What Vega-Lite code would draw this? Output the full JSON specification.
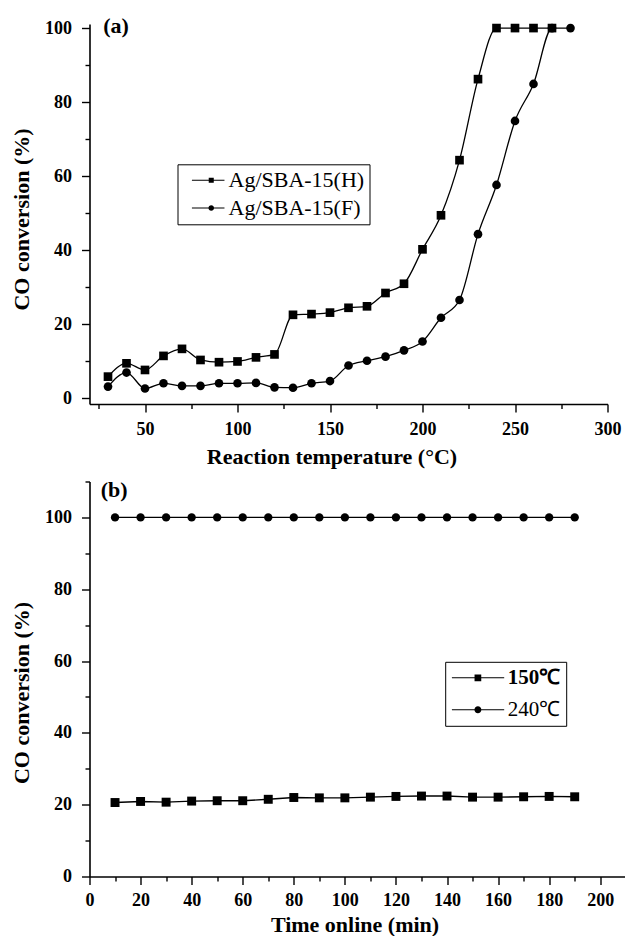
{
  "$schema": "https://vega.github.io/schema/vega-lite/v6.json",
  "background": "white",
  "padding": {"left": 10.5, "top": 15, "right": 0, "bottom": 0},
  "config": {
    "font": "Liberation Serif",
    "view": {"stroke": null},
    "concat": {"spacing": 11.5},
    "axis": {
      "domainColor": "black", "domainWidth": 1.6,
      "tickColor": "black", "tickWidth": 1.4,
      "labelFont": "Liberation Serif", "labelFontWeight": "bold", "labelFontSize": 18, "labelColor": "black",
      "titleFont": "Liberation Serif", "titleFontWeight": "bold", "titleFontSize": 22, "titleColor": "black",
      "grid": false, "labelFlush": false, "labelOverlap": false
    }
  },
  "datasets": {
    "a": [
      {"temp": 30, "conv": 5.8, "series": "Ag/SBA-15(H)"},
      {"temp": 40, "conv": 9.4, "series": "Ag/SBA-15(H)"},
      {"temp": 50, "conv": 7.6, "series": "Ag/SBA-15(H)"},
      {"temp": 60, "conv": 11.4, "series": "Ag/SBA-15(H)"},
      {"temp": 70, "conv": 13.3, "series": "Ag/SBA-15(H)"},
      {"temp": 80, "conv": 10.3, "series": "Ag/SBA-15(H)"},
      {"temp": 90, "conv": 9.7, "series": "Ag/SBA-15(H)"},
      {"temp": 100, "conv": 9.9, "series": "Ag/SBA-15(H)"},
      {"temp": 110, "conv": 11.0, "series": "Ag/SBA-15(H)"},
      {"temp": 120, "conv": 11.8, "series": "Ag/SBA-15(H)"},
      {"temp": 130, "conv": 22.5, "series": "Ag/SBA-15(H)"},
      {"temp": 140, "conv": 22.7, "series": "Ag/SBA-15(H)"},
      {"temp": 150, "conv": 23.1, "series": "Ag/SBA-15(H)"},
      {"temp": 160, "conv": 24.4, "series": "Ag/SBA-15(H)"},
      {"temp": 170, "conv": 24.8, "series": "Ag/SBA-15(H)"},
      {"temp": 180, "conv": 28.4, "series": "Ag/SBA-15(H)"},
      {"temp": 190, "conv": 30.9, "series": "Ag/SBA-15(H)"},
      {"temp": 200, "conv": 40.2, "series": "Ag/SBA-15(H)"},
      {"temp": 210, "conv": 49.4, "series": "Ag/SBA-15(H)"},
      {"temp": 220, "conv": 64.3, "series": "Ag/SBA-15(H)"},
      {"temp": 230, "conv": 86.2, "series": "Ag/SBA-15(H)"},
      {"temp": 240, "conv": 100, "series": "Ag/SBA-15(H)"},
      {"temp": 250, "conv": 100, "series": "Ag/SBA-15(H)"},
      {"temp": 260, "conv": 100, "series": "Ag/SBA-15(H)"},
      {"temp": 270, "conv": 100, "series": "Ag/SBA-15(H)"},
      {"temp": 30, "conv": 3.1, "series": "Ag/SBA-15(F)"},
      {"temp": 40, "conv": 6.9, "series": "Ag/SBA-15(F)"},
      {"temp": 50, "conv": 2.6, "series": "Ag/SBA-15(F)"},
      {"temp": 60, "conv": 4.0, "series": "Ag/SBA-15(F)"},
      {"temp": 70, "conv": 3.3, "series": "Ag/SBA-15(F)"},
      {"temp": 80, "conv": 3.3, "series": "Ag/SBA-15(F)"},
      {"temp": 90, "conv": 4.0, "series": "Ag/SBA-15(F)"},
      {"temp": 100, "conv": 4.0, "series": "Ag/SBA-15(F)"},
      {"temp": 110, "conv": 4.1, "series": "Ag/SBA-15(F)"},
      {"temp": 120, "conv": 2.9, "series": "Ag/SBA-15(F)"},
      {"temp": 130, "conv": 2.8, "series": "Ag/SBA-15(F)"},
      {"temp": 140, "conv": 4.0, "series": "Ag/SBA-15(F)"},
      {"temp": 150, "conv": 4.6, "series": "Ag/SBA-15(F)"},
      {"temp": 160, "conv": 8.8, "series": "Ag/SBA-15(F)"},
      {"temp": 170, "conv": 10.1, "series": "Ag/SBA-15(F)"},
      {"temp": 180, "conv": 11.2, "series": "Ag/SBA-15(F)"},
      {"temp": 190, "conv": 12.9, "series": "Ag/SBA-15(F)"},
      {"temp": 200, "conv": 15.3, "series": "Ag/SBA-15(F)"},
      {"temp": 210, "conv": 21.7, "series": "Ag/SBA-15(F)"},
      {"temp": 220, "conv": 26.5, "series": "Ag/SBA-15(F)"},
      {"temp": 230, "conv": 44.3, "series": "Ag/SBA-15(F)"},
      {"temp": 240, "conv": 57.6, "series": "Ag/SBA-15(F)"},
      {"temp": 250, "conv": 74.9, "series": "Ag/SBA-15(F)"},
      {"temp": 260, "conv": 84.9, "series": "Ag/SBA-15(F)"},
      {"temp": 270, "conv": 100, "series": "Ag/SBA-15(F)"},
      {"temp": 280, "conv": 100, "series": "Ag/SBA-15(F)"}
    ],
    "b": [
      {"time": 10, "conv": 20.6, "cond": "150℃"},
      {"time": 20, "conv": 20.9, "cond": "150℃"},
      {"time": 30, "conv": 20.7, "cond": "150℃"},
      {"time": 40, "conv": 21.0, "cond": "150℃"},
      {"time": 50, "conv": 21.1, "cond": "150℃"},
      {"time": 60, "conv": 21.1, "cond": "150℃"},
      {"time": 70, "conv": 21.5, "cond": "150℃"},
      {"time": 80, "conv": 22.0, "cond": "150℃"},
      {"time": 90, "conv": 21.9, "cond": "150℃"},
      {"time": 100, "conv": 21.9, "cond": "150℃"},
      {"time": 110, "conv": 22.1, "cond": "150℃"},
      {"time": 120, "conv": 22.3, "cond": "150℃"},
      {"time": 130, "conv": 22.4, "cond": "150℃"},
      {"time": 140, "conv": 22.4, "cond": "150℃"},
      {"time": 150, "conv": 22.1, "cond": "150℃"},
      {"time": 160, "conv": 22.1, "cond": "150℃"},
      {"time": 170, "conv": 22.2, "cond": "150℃"},
      {"time": 180, "conv": 22.3, "cond": "150℃"},
      {"time": 190, "conv": 22.2, "cond": "150℃"},
      {"time": 10, "conv": 100, "cond": "240℃"},
      {"time": 20, "conv": 100, "cond": "240℃"},
      {"time": 30, "conv": 100, "cond": "240℃"},
      {"time": 40, "conv": 100, "cond": "240℃"},
      {"time": 50, "conv": 100, "cond": "240℃"},
      {"time": 60, "conv": 100, "cond": "240℃"},
      {"time": 70, "conv": 100, "cond": "240℃"},
      {"time": 80, "conv": 100, "cond": "240℃"},
      {"time": 90, "conv": 100, "cond": "240℃"},
      {"time": 100, "conv": 100, "cond": "240℃"},
      {"time": 110, "conv": 100, "cond": "240℃"},
      {"time": 120, "conv": 100, "cond": "240℃"},
      {"time": 130, "conv": 100, "cond": "240℃"},
      {"time": 140, "conv": 100, "cond": "240℃"},
      {"time": 150, "conv": 100, "cond": "240℃"},
      {"time": 160, "conv": 100, "cond": "240℃"},
      {"time": 170, "conv": 100, "cond": "240℃"},
      {"time": 180, "conv": 100, "cond": "240℃"},
      {"time": 190, "conv": 100, "cond": "240℃"}
    ]
  },
  "resolve": {"scale": {"shape": "independent"}, "legend": {"shape": "independent"}},
  "vconcat": [
    {
      "width": 518,
      "height": 380,
      "resolve": {"axis": {"x": "independent", "y": "independent"}},
      "layer": [
        {
          "data": {"name": "a"},
          "mark": {"type": "line", "interpolate": "monotone", "color": "black", "strokeWidth": 1.3},
          "encoding": {
            "x": {"field": "temp", "type": "quantitative",
              "scale": {"domain": [20, 300], "nice": false, "zero": false},
              "axis": {"title": "Reaction temperature (°C)", "orient": "bottom",
                "values": [50, 100, 150, 200, 250, 300],
                "tickSize": 8, "labelPadding": 8, "titlePadding": 8, "titleX": 242}},
            "y": {"field": "conv", "type": "quantitative",
              "scale": {"domain": [-1.6, 101.1], "nice": false, "zero": false},
              "axis": {"title": "CO conversion (%)", "orient": "left",
                "values": [0, 20, 40, 60, 80, 100],
                "tickSize": 8, "labelPadding": 10, "titlePadding": 11, "titleY": 195}},
            "detail": {"field": "series"}
          }
        },
        {
          "data": {"name": "a"},
          "transform": [{"filter": "datum.series === 'Ag/SBA-15(H)'"}],
          "mark": {"type": "square", "color": "black", "size": 75, "opacity": 1},
          "encoding": {
            "x": {"field": "temp", "type": "quantitative", "axis": null},
            "y": {"field": "conv", "type": "quantitative", "axis": null}
          }
        },
        {
          "data": {"name": "a"},
          "transform": [{"filter": "datum.series === 'Ag/SBA-15(F)'"}],
          "mark": {"type": "circle", "color": "black", "size": 75, "opacity": 1},
          "encoding": {
            "x": {"field": "temp", "type": "quantitative", "axis": null},
            "y": {"field": "conv", "type": "quantitative", "axis": null}
          }
        },
        {
          "data": {"name": "a"},
          "mark": {"type": "point", "filled": true, "color": "black", "opacity": 0, "size": 1},
          "encoding": {
            "x": {"field": "temp", "type": "quantitative", "axis": null},
            "y": {"field": "conv", "type": "quantitative", "axis": null},
            "shape": {"field": "series", "type": "nominal",
              "scale": {"domain": ["Ag/SBA-15(H)", "Ag/SBA-15(F)"],
                "range": ["M-0.15,-0.048H2.95V0.048H-0.15ZM1.45,-0.24H1.93V0.24H1.45Z", "M-0.15,-0.048H2.95V0.048H-0.15ZM1.96,0A0.27,0.27 0 1,1 1.42,0A0.27,0.27 0 1,1 1.96,0Z"]},
              "legend": {"title": null, "orient": "none", "legendX": 88, "legendY": 140.3,
                "strokeColor": "black", "padding": 5,
                "symbolSize": 441, "symbolOpacity": 1, "symbolStrokeWidth": 0,
                "symbolFillColor": "black",
                "labelFont": "Liberation Serif", "labelFontSize": 22,
                "labelFontWeight": "normal", "labelColor": "black", "labelOffset": 24, "rowPadding": 5.7}}
          }
        },
        {
          "data": {"values": [{}]},
          "mark": {"type": "text", "text": "(a)", "font": "Liberation Serif", "fontWeight": "bold", "fontSize": 22, "align": "left", "baseline": "middle", "color": "black"},
          "encoding": {
            "x": {"datum": 27.4, "type": "quantitative",
              "axis": {"orient": "bottom", "values": [25, 75, 125, 175, 225, 275], "labels": false, "domain": false, "tickSize": 4.5, "title": null}},
            "y": {"datum": 100.5, "type": "quantitative",
              "axis": {"orient": "left", "values": [10, 30, 50, 70, 90], "labels": false, "domain": false, "tickSize": 4.5, "title": null}}
          }
        }
      ]
    },
    {
      "width": 535,
      "height": 395,
      "resolve": {"axis": {"x": "independent", "y": "independent"}},
      "layer": [
        {
          "data": {"name": "b"},
          "mark": {"type": "line", "color": "black", "strokeWidth": 1.4},
          "encoding": {
            "x": {"field": "time", "type": "quantitative",
              "scale": {"domain": [0, 209.5], "nice": false, "zero": false},
              "axis": {"title": "Time online (min)", "orient": "bottom",
                "values": [0, 20, 40, 60, 80, 100, 120, 140, 160, 180, 200],
                "tickSize": 8, "labelPadding": 7, "titlePadding": 5, "titleX": 265}},
            "y": {"field": "conv", "type": "quantitative",
              "scale": {"domain": [0, 110], "nice": false, "zero": false},
              "axis": {"title": "CO conversion (%)", "orient": "left",
                "values": [0, 20, 40, 60, 80, 100],
                "tickSize": 8, "labelPadding": 10, "titlePadding": 11, "titleY": 211}},
            "detail": {"field": "cond"}
          }
        },
        {
          "data": {"name": "b"},
          "transform": [{"filter": "datum.cond === '150℃'"}],
          "mark": {"type": "square", "color": "black", "size": 80, "opacity": 1},
          "encoding": {
            "x": {"field": "time", "type": "quantitative", "axis": null},
            "y": {"field": "conv", "type": "quantitative", "axis": null}
          }
        },
        {
          "data": {"name": "b"},
          "transform": [{"filter": "datum.cond === '240℃'"}],
          "mark": {"type": "circle", "color": "black", "size": 70, "opacity": 1},
          "encoding": {
            "x": {"field": "time", "type": "quantitative", "axis": null},
            "y": {"field": "conv", "type": "quantitative", "axis": null}
          }
        },
        {
          "data": {"name": "b"},
          "mark": {"type": "point", "filled": true, "color": "black", "opacity": 0, "size": 1},
          "encoding": {
            "x": {"field": "time", "type": "quantitative", "axis": null},
            "y": {"field": "conv", "type": "quantitative", "axis": null},
            "shape": {"field": "cond", "type": "nominal",
              "scale": {"domain": ["150℃", "240℃"],
                "range": ["M-0.93,-0.05H4.3V0.05H-0.93ZM1.335,-0.335H2.005V0.335H1.335Z", "M-0.93,-0.05H4.3V0.05H-0.93ZM2.02,0A0.35,0.35 0 1,1 1.32,0A0.35,0.35 0 1,1 2.02,0Z"]},
              "legend": {"title": null, "orient": "none", "legendX": 355.7, "legendY": 180.3,
                "strokeColor": "black", "padding": 5.5,
                "symbolSize": 400, "symbolOpacity": 1, "symbolStrokeWidth": 0,
                "symbolFillColor": "black",
                "labelFont": "Liberation Serif", "labelFontSize": 21,
                "labelFontWeight": {"expr": "datum.value === '150℃' ? 'bold' : 'normal'"},
                "labelColor": "black", "labelOffset": 36, "rowPadding": 10}}
          }
        },
        {
          "data": {"values": [{}]},
          "mark": {"type": "text", "text": "(b)", "font": "Liberation Serif", "fontWeight": "bold", "fontSize": 22, "align": "left", "baseline": "middle", "color": "black"},
          "encoding": {
            "x": {"datum": 4.4, "type": "quantitative",
              "axis": {"orient": "bottom", "values": [10, 30, 50, 70, 90, 110, 130, 150, 170, 190], "labels": false, "domain": false, "tickSize": 4.5, "title": null}},
            "y": {"datum": 107.7, "type": "quantitative",
              "axis": {"orient": "left", "values": [10, 30, 50, 70, 90, 110], "labels": false, "domain": false, "tickSize": 4.5, "title": null}}
          }
        }
      ]
    }
  ]
}
